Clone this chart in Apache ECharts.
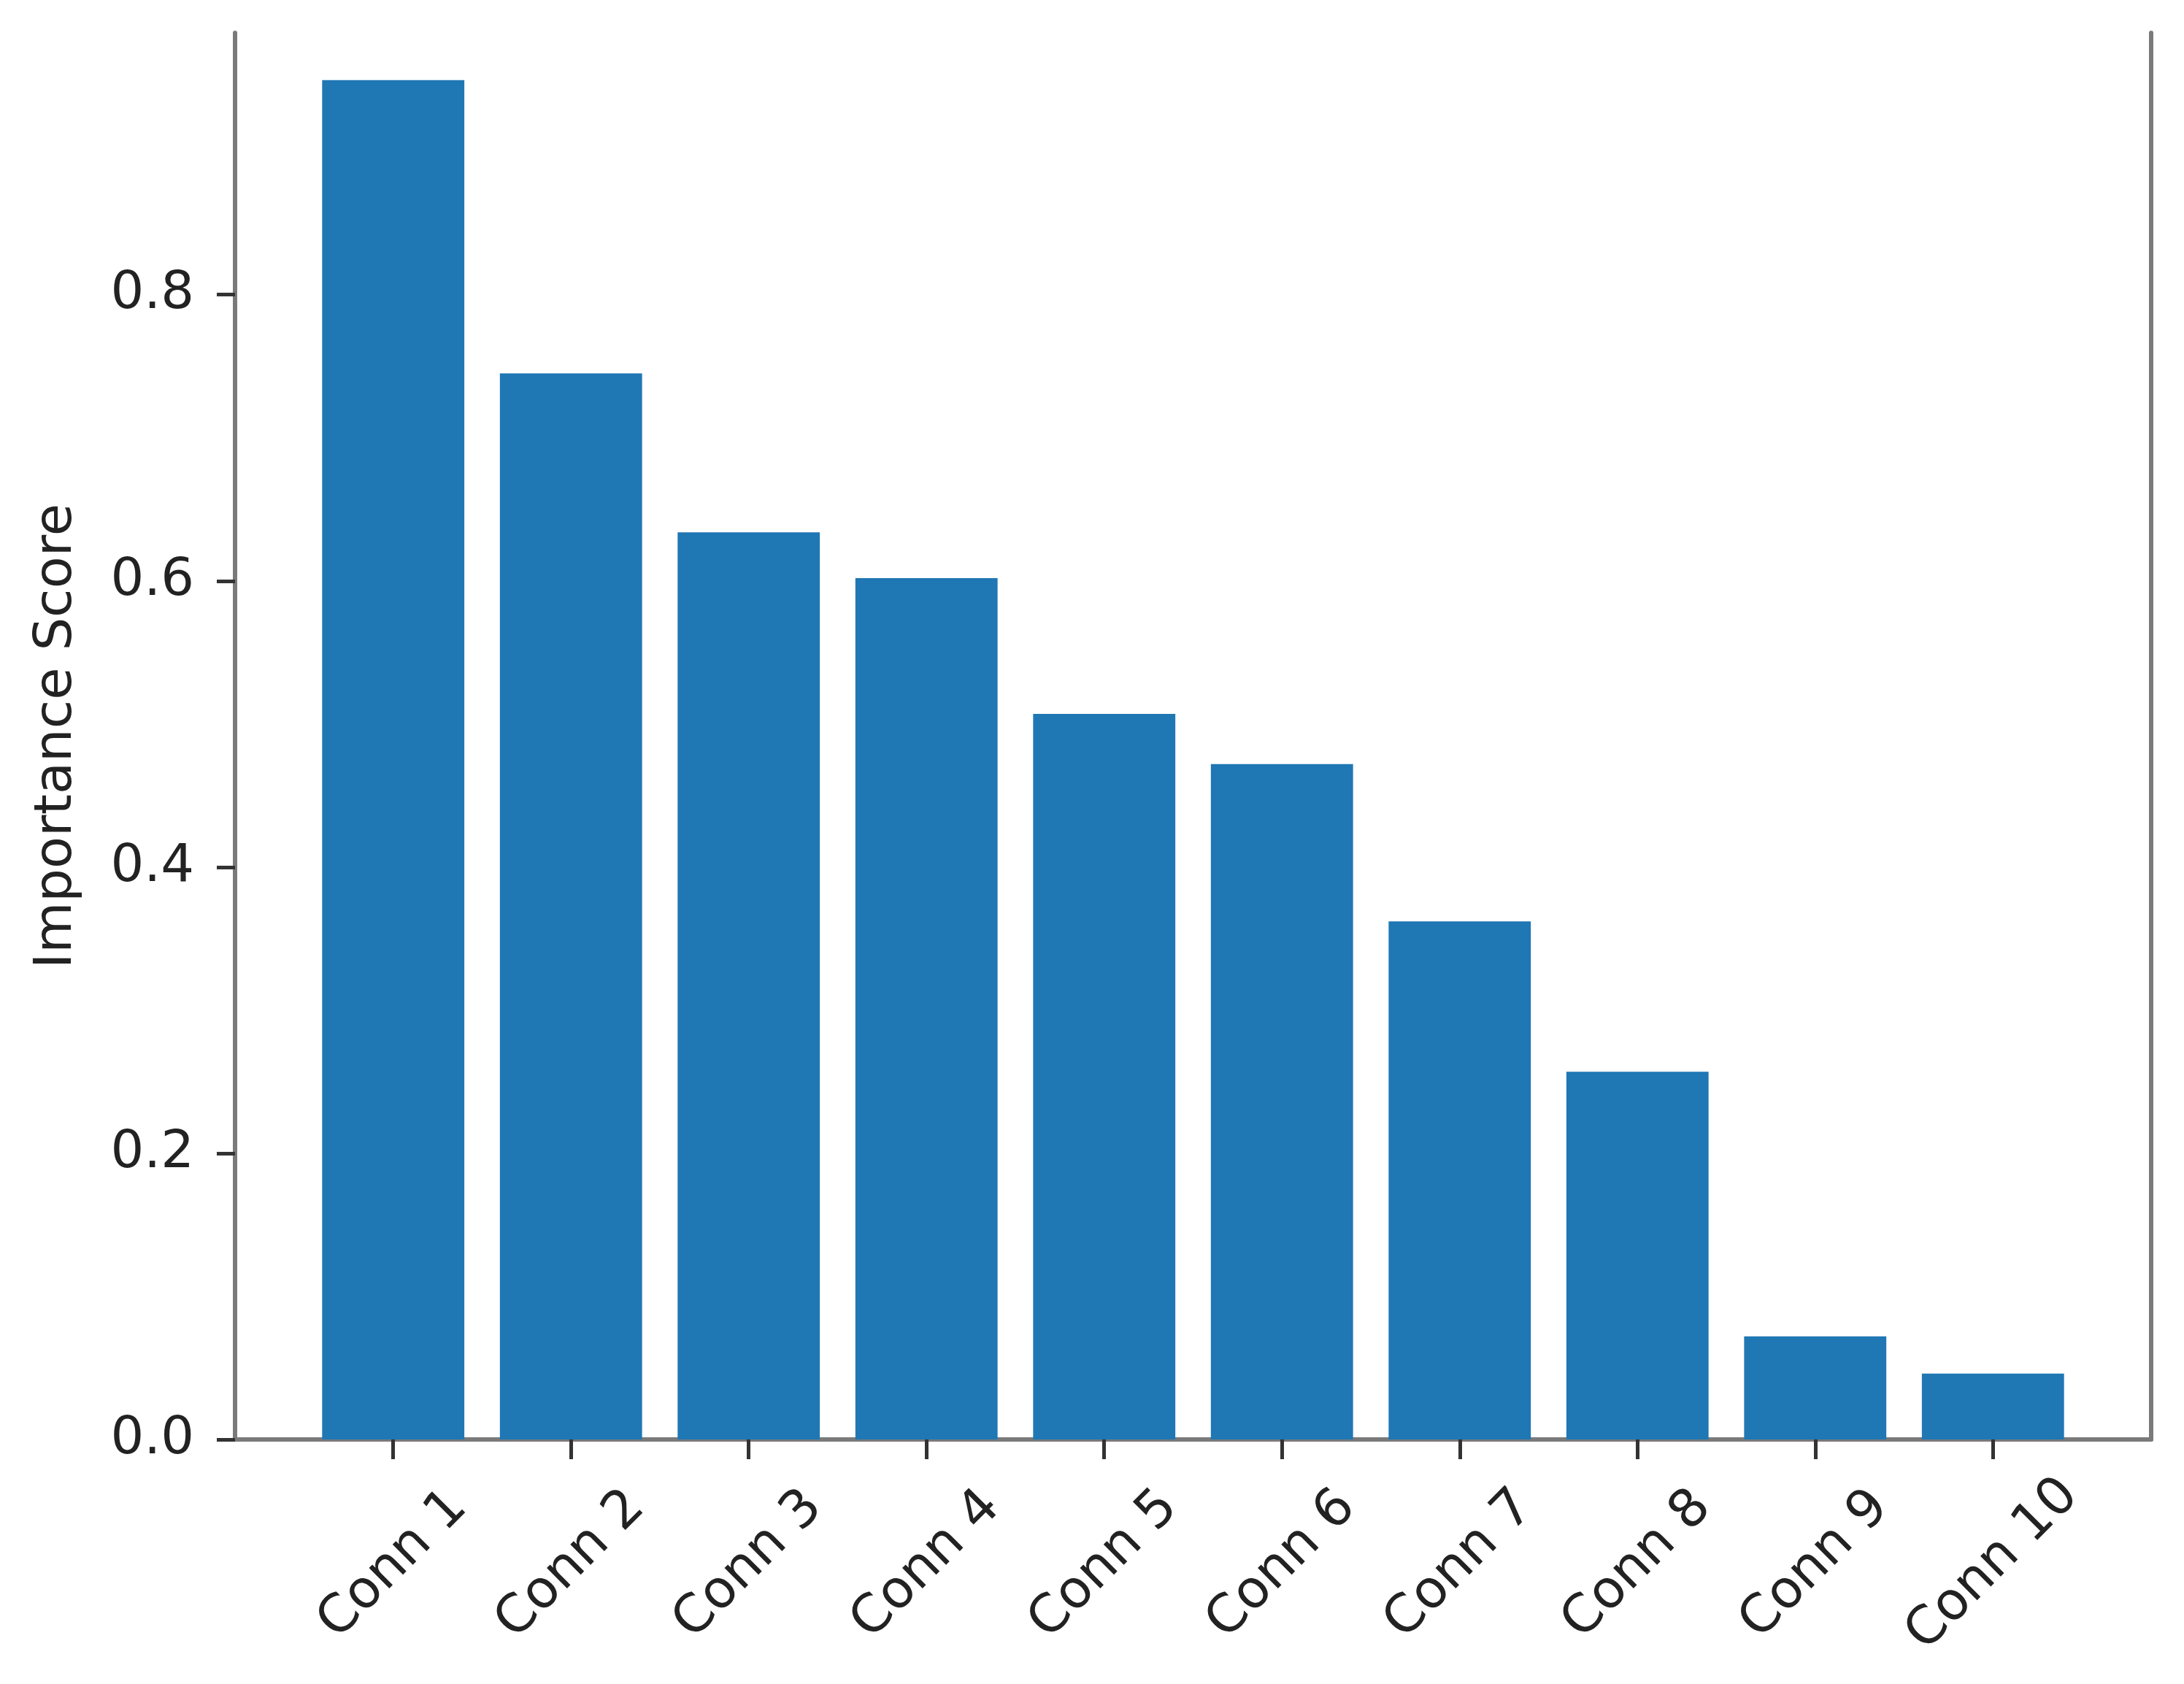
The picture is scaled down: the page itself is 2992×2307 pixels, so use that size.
<!DOCTYPE html>
<html>
<head>
<meta charset="utf-8">
<script src="https://cdn.jsdelivr.net/npm/echarts@6/dist/echarts.min.js"></script>
<style>
html,body{margin:0;padding:0;background:#fff;}
#chart{width:2992px;height:2307px;}
</style>
</head>
<body>
<div id="chart"></div>
<script>
const categories = ['Conn 1','Conn 2','Conn 3','Conn 4','Conn 5','Conn 6','Conn 7','Conn 8','Conn 9','Conn 10'];
const scores = [0.950, 0.745, 0.634, 0.602, 0.507, 0.472, 0.362, 0.257, 0.072, 0.046];
const yTicks = [0.0, 0.2, 0.4, 0.6, 0.8];
const yAxisTitle = 'Importance Score';

const positions = categories.map((c, i) => i);
const xMin = -0.89, xMax = 9.89, yMin = 0, yMax = 0.983;
const gridLeft = 322, gridRight = 45, gridTop = 45, gridBottom = 335;
const plotW = 2992 - gridLeft - gridRight;
const barW = 0.8 * plotW / (xMax - xMin);

const FONT = 'DejaVu Sans';
const spineStyle = {color: '#7a7a7a', width: 6};

const chart = echarts.init(document.getElementById('chart'), null, {renderer: 'canvas'});
chart.setOption({
  backgroundColor: '#ffffff',
  animation: false,
  grid: {left: gridLeft, right: gridRight, top: gridTop, bottom: gridBottom, containLabel: false},
  xAxis: {
    type: 'value', min: xMin, max: xMax,
    splitLine: {show: false},
    axisLine: {show: true, onZero: false, lineStyle: spineStyle},
    axisTick: {show: true, customValues: positions, length: 27, lineStyle: {color: '#333', width: 5}},
    axisLabel: {
      show: true, customValues: positions,
      formatter: v => categories[Math.round(v)],
      rotate: 45, align: 'center', verticalAlign: 'middle', margin: 172,
      fontFamily: FONT, fontSize: 72, color: '#222'
    }
  },
  yAxis: [{
    type: 'value', min: yMin, max: yMax, position: 'left',
    splitLine: {show: false},
    axisLine: {show: true, onZero: false, lineStyle: spineStyle},
    axisTick: {show: true, customValues: yTicks, length: 25, lineStyle: {color: '#333', width: 5}},
    axisLabel: {
      show: true, customValues: yTicks,
      formatter: v => v.toFixed(1),
      margin: 56, fontFamily: FONT, fontSize: 72, color: '#222'
    },
    name: yAxisTitle, nameLocation: 'middle', nameRotate: 90, nameGap: 208,
    nameTextStyle: {fontFamily: FONT, fontSize: 72, color: '#222'}
  }, {
    type: 'value', min: yMin, max: yMax, position: 'right',
    splitLine: {show: false},
    axisLine: {show: true, onZero: false, lineStyle: spineStyle},
    axisTick: {show: false},
    axisLabel: {show: false}
  }],
  series: [{
    type: 'bar',
    data: positions.map((p, i) => [p, scores[i]]),
    barWidth: barW,
    itemStyle: {color: '#1f77b4'},
    z: 1
  }]
});
</script>
</body>
</html>
